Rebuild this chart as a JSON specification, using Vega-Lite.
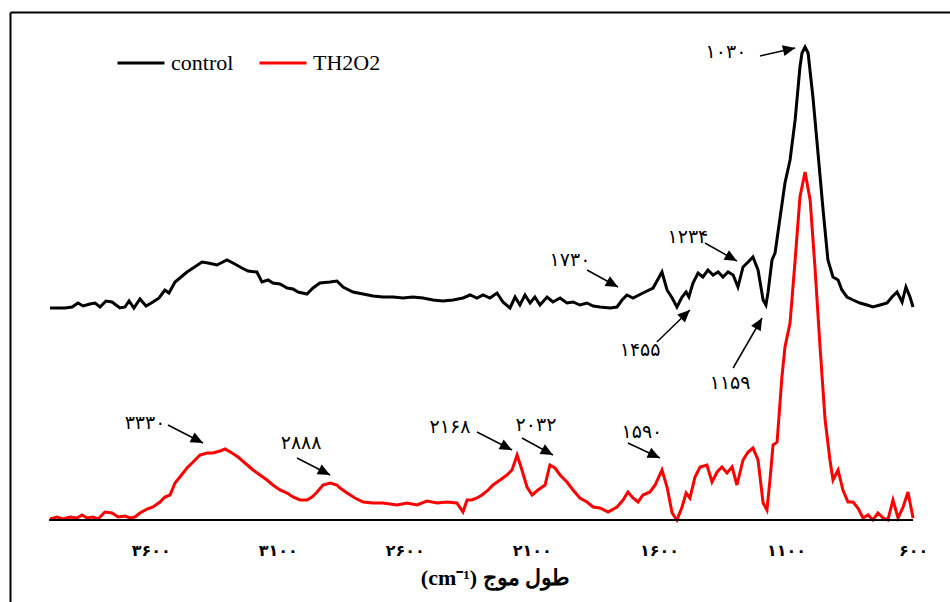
{
  "$schema": "https://vega.github.io/schema/vega-lite/v6.json",
  "width": 940,
  "height": 590,
  "autosize": {"type": "none"},
  "padding": {"left": 10, "top": 12, "right": 0, "bottom": 0},
  "background": "white",
  "config": {"view": {"stroke": null}},
  "datasets": {
    "spectra": [
      {"wavenumber":3996,"value":212,"sample":"control"},{"wavenumber":3937,"value":212,"sample":"control"},{"wavenumber":3909,"value":213,"sample":"control"},{"wavenumber":3886,"value":217,"sample":"control"},{"wavenumber":3866,"value":214,"sample":"control"},{"wavenumber":3839,"value":216,"sample":"control"},{"wavenumber":3819,"value":217,"sample":"control"},{"wavenumber":3799,"value":213,"sample":"control"},{"wavenumber":3776,"value":219,"sample":"control"},{"wavenumber":3752,"value":218,"sample":"control"},{"wavenumber":3721,"value":212,"sample":"control"},{"wavenumber":3701,"value":213,"sample":"control"},{"wavenumber":3685,"value":219,"sample":"control"},{"wavenumber":3666,"value":212,"sample":"control"},{"wavenumber":3642,"value":221,"sample":"control"},{"wavenumber":3618,"value":214,"sample":"control"},{"wavenumber":3591,"value":218,"sample":"control"},{"wavenumber":3567,"value":222,"sample":"control"},{"wavenumber":3544,"value":230,"sample":"control"},{"wavenumber":3528,"value":227,"sample":"control"},{"wavenumber":3504,"value":238,"sample":"control"},{"wavenumber":3485,"value":242,"sample":"control"},{"wavenumber":3457,"value":248,"sample":"control"},{"wavenumber":3433,"value":252,"sample":"control"},{"wavenumber":3398,"value":258,"sample":"control"},{"wavenumber":3374,"value":257,"sample":"control"},{"wavenumber":3339,"value":255,"sample":"control"},{"wavenumber":3300,"value":260,"sample":"control"},{"wavenumber":3276,"value":257,"sample":"control"},{"wavenumber":3241,"value":252,"sample":"control"},{"wavenumber":3217,"value":249,"sample":"control"},{"wavenumber":3182,"value":248,"sample":"control"},{"wavenumber":3162,"value":238,"sample":"control"},{"wavenumber":3138,"value":240,"sample":"control"},{"wavenumber":3119,"value":237,"sample":"control"},{"wavenumber":3091,"value":236,"sample":"control"},{"wavenumber":3063,"value":232,"sample":"control"},{"wavenumber":3040,"value":231,"sample":"control"},{"wavenumber":3020,"value":228,"sample":"control"},{"wavenumber":2985,"value":226,"sample":"control"},{"wavenumber":2961,"value":232,"sample":"control"},{"wavenumber":2934,"value":237,"sample":"control"},{"wavenumber":2894,"value":238,"sample":"control"},{"wavenumber":2867,"value":239,"sample":"control"},{"wavenumber":2843,"value":233,"sample":"control"},{"wavenumber":2804,"value":228,"sample":"control"},{"wavenumber":2764,"value":226,"sample":"control"},{"wavenumber":2725,"value":224,"sample":"control"},{"wavenumber":2686,"value":223,"sample":"control"},{"wavenumber":2646,"value":223,"sample":"control"},{"wavenumber":2607,"value":222,"sample":"control"},{"wavenumber":2568,"value":223,"sample":"control"},{"wavenumber":2528,"value":222,"sample":"control"},{"wavenumber":2489,"value":220,"sample":"control"},{"wavenumber":2450,"value":219,"sample":"control"},{"wavenumber":2410,"value":220,"sample":"control"},{"wavenumber":2371,"value":222,"sample":"control"},{"wavenumber":2343,"value":225,"sample":"control"},{"wavenumber":2316,"value":222,"sample":"control"},{"wavenumber":2292,"value":225,"sample":"control"},{"wavenumber":2265,"value":222,"sample":"control"},{"wavenumber":2237,"value":227,"sample":"control"},{"wavenumber":2214,"value":218,"sample":"control"},{"wavenumber":2186,"value":212,"sample":"control"},{"wavenumber":2166,"value":223,"sample":"control"},{"wavenumber":2147,"value":215,"sample":"control"},{"wavenumber":2127,"value":225,"sample":"control"},{"wavenumber":2107,"value":217,"sample":"control"},{"wavenumber":2088,"value":223,"sample":"control"},{"wavenumber":2068,"value":215,"sample":"control"},{"wavenumber":2040,"value":223,"sample":"control"},{"wavenumber":2017,"value":218,"sample":"control"},{"wavenumber":1989,"value":222,"sample":"control"},{"wavenumber":1962,"value":217,"sample":"control"},{"wavenumber":1938,"value":218,"sample":"control"},{"wavenumber":1911,"value":215,"sample":"control"},{"wavenumber":1883,"value":217,"sample":"control"},{"wavenumber":1859,"value":214,"sample":"control"},{"wavenumber":1832,"value":213,"sample":"control"},{"wavenumber":1792,"value":212,"sample":"control"},{"wavenumber":1765,"value":213,"sample":"control"},{"wavenumber":1745,"value":220,"sample":"control"},{"wavenumber":1726,"value":225,"sample":"control"},{"wavenumber":1702,"value":222,"sample":"control"},{"wavenumber":1663,"value":227,"sample":"control"},{"wavenumber":1623,"value":232,"sample":"control"},{"wavenumber":1588,"value":248,"sample":"control"},{"wavenumber":1568,"value":230,"sample":"control"},{"wavenumber":1548,"value":222,"sample":"control"},{"wavenumber":1529,"value":213,"sample":"control"},{"wavenumber":1509,"value":223,"sample":"control"},{"wavenumber":1493,"value":228,"sample":"control"},{"wavenumber":1482,"value":223,"sample":"control"},{"wavenumber":1466,"value":237,"sample":"control"},{"wavenumber":1446,"value":247,"sample":"control"},{"wavenumber":1427,"value":243,"sample":"control"},{"wavenumber":1407,"value":250,"sample":"control"},{"wavenumber":1387,"value":245,"sample":"control"},{"wavenumber":1367,"value":248,"sample":"control"},{"wavenumber":1348,"value":243,"sample":"control"},{"wavenumber":1328,"value":248,"sample":"control"},{"wavenumber":1308,"value":245,"sample":"control"},{"wavenumber":1289,"value":233,"sample":"control"},{"wavenumber":1269,"value":253,"sample":"control"},{"wavenumber":1249,"value":258,"sample":"control"},{"wavenumber":1230,"value":263,"sample":"control"},{"wavenumber":1210,"value":250,"sample":"control"},{"wavenumber":1190,"value":220,"sample":"control"},{"wavenumber":1179,"value":215,"sample":"control"},{"wavenumber":1171,"value":227,"sample":"control"},{"wavenumber":1155,"value":260,"sample":"control"},{"wavenumber":1143,"value":267,"sample":"control"},{"wavenumber":1123,"value":303,"sample":"control"},{"wavenumber":1104,"value":337,"sample":"control"},{"wavenumber":1084,"value":360,"sample":"control"},{"wavenumber":1064,"value":400,"sample":"control"},{"wavenumber":1045,"value":453,"sample":"control"},{"wavenumber":1037,"value":467,"sample":"control"},{"wavenumber":1025,"value":473,"sample":"control"},{"wavenumber":1013,"value":467,"sample":"control"},{"wavenumber":994,"value":423,"sample":"control"},{"wavenumber":974,"value":367,"sample":"control"},{"wavenumber":954,"value":310,"sample":"control"},{"wavenumber":935,"value":260,"sample":"control"},{"wavenumber":915,"value":243,"sample":"control"},{"wavenumber":895,"value":240,"sample":"control"},{"wavenumber":880,"value":230,"sample":"control"},{"wavenumber":860,"value":223,"sample":"control"},{"wavenumber":836,"value":220,"sample":"control"},{"wavenumber":809,"value":217,"sample":"control"},{"wavenumber":781,"value":215,"sample":"control"},{"wavenumber":758,"value":213,"sample":"control"},{"wavenumber":730,"value":215,"sample":"control"},{"wavenumber":702,"value":217,"sample":"control"},{"wavenumber":683,"value":223,"sample":"control"},{"wavenumber":663,"value":228,"sample":"control"},{"wavenumber":643,"value":218,"sample":"control"},{"wavenumber":628,"value":233,"sample":"control"},{"wavenumber":612,"value":223,"sample":"control"},{"wavenumber":600,"value":213,"sample":"control"},
      {"wavenumber":3996,"value":1,"sample":"TH2O2"},{"wavenumber":3969,"value":3,"sample":"TH2O2"},{"wavenumber":3945,"value":1,"sample":"TH2O2"},{"wavenumber":3917,"value":3,"sample":"TH2O2"},{"wavenumber":3890,"value":2,"sample":"TH2O2"},{"wavenumber":3870,"value":5,"sample":"TH2O2"},{"wavenumber":3850,"value":2,"sample":"TH2O2"},{"wavenumber":3827,"value":3,"sample":"TH2O2"},{"wavenumber":3807,"value":1,"sample":"TH2O2"},{"wavenumber":3780,"value":8,"sample":"TH2O2"},{"wavenumber":3752,"value":7,"sample":"TH2O2"},{"wavenumber":3728,"value":3,"sample":"TH2O2"},{"wavenumber":3701,"value":4,"sample":"TH2O2"},{"wavenumber":3681,"value":2,"sample":"TH2O2"},{"wavenumber":3662,"value":3,"sample":"TH2O2"},{"wavenumber":3642,"value":7,"sample":"TH2O2"},{"wavenumber":3614,"value":11,"sample":"TH2O2"},{"wavenumber":3591,"value":13,"sample":"TH2O2"},{"wavenumber":3563,"value":18,"sample":"TH2O2"},{"wavenumber":3544,"value":23,"sample":"TH2O2"},{"wavenumber":3524,"value":25,"sample":"TH2O2"},{"wavenumber":3504,"value":37,"sample":"TH2O2"},{"wavenumber":3485,"value":43,"sample":"TH2O2"},{"wavenumber":3457,"value":52,"sample":"TH2O2"},{"wavenumber":3433,"value":58,"sample":"TH2O2"},{"wavenumber":3406,"value":65,"sample":"TH2O2"},{"wavenumber":3378,"value":67,"sample":"TH2O2"},{"wavenumber":3355,"value":67,"sample":"TH2O2"},{"wavenumber":3327,"value":69,"sample":"TH2O2"},{"wavenumber":3307,"value":71,"sample":"TH2O2"},{"wavenumber":3280,"value":67,"sample":"TH2O2"},{"wavenumber":3256,"value":63,"sample":"TH2O2"},{"wavenumber":3229,"value":57,"sample":"TH2O2"},{"wavenumber":3197,"value":50,"sample":"TH2O2"},{"wavenumber":3170,"value":45,"sample":"TH2O2"},{"wavenumber":3142,"value":40,"sample":"TH2O2"},{"wavenumber":3119,"value":35,"sample":"TH2O2"},{"wavenumber":3091,"value":30,"sample":"TH2O2"},{"wavenumber":3063,"value":27,"sample":"TH2O2"},{"wavenumber":3040,"value":23,"sample":"TH2O2"},{"wavenumber":3012,"value":20,"sample":"TH2O2"},{"wavenumber":2985,"value":20,"sample":"TH2O2"},{"wavenumber":2965,"value":23,"sample":"TH2O2"},{"wavenumber":2945,"value":28,"sample":"TH2O2"},{"wavenumber":2922,"value":35,"sample":"TH2O2"},{"wavenumber":2894,"value":37,"sample":"TH2O2"},{"wavenumber":2867,"value":35,"sample":"TH2O2"},{"wavenumber":2855,"value":32,"sample":"TH2O2"},{"wavenumber":2827,"value":27,"sample":"TH2O2"},{"wavenumber":2796,"value":22,"sample":"TH2O2"},{"wavenumber":2764,"value":18,"sample":"TH2O2"},{"wavenumber":2725,"value":17,"sample":"TH2O2"},{"wavenumber":2686,"value":17,"sample":"TH2O2"},{"wavenumber":2631,"value":15,"sample":"TH2O2"},{"wavenumber":2591,"value":17,"sample":"TH2O2"},{"wavenumber":2552,"value":15,"sample":"TH2O2"},{"wavenumber":2513,"value":19,"sample":"TH2O2"},{"wavenumber":2473,"value":17,"sample":"TH2O2"},{"wavenumber":2434,"value":18,"sample":"TH2O2"},{"wavenumber":2395,"value":17,"sample":"TH2O2"},{"wavenumber":2371,"value":8,"sample":"TH2O2"},{"wavenumber":2355,"value":20,"sample":"TH2O2"},{"wavenumber":2336,"value":20,"sample":"TH2O2"},{"wavenumber":2316,"value":22,"sample":"TH2O2"},{"wavenumber":2296,"value":25,"sample":"TH2O2"},{"wavenumber":2276,"value":29,"sample":"TH2O2"},{"wavenumber":2253,"value":35,"sample":"TH2O2"},{"wavenumber":2225,"value":40,"sample":"TH2O2"},{"wavenumber":2198,"value":45,"sample":"TH2O2"},{"wavenumber":2178,"value":50,"sample":"TH2O2"},{"wavenumber":2158,"value":65,"sample":"TH2O2"},{"wavenumber":2139,"value":50,"sample":"TH2O2"},{"wavenumber":2119,"value":33,"sample":"TH2O2"},{"wavenumber":2099,"value":25,"sample":"TH2O2"},{"wavenumber":2076,"value":30,"sample":"TH2O2"},{"wavenumber":2048,"value":35,"sample":"TH2O2"},{"wavenumber":2029,"value":55,"sample":"TH2O2"},{"wavenumber":2009,"value":52,"sample":"TH2O2"},{"wavenumber":1989,"value":45,"sample":"TH2O2"},{"wavenumber":1962,"value":38,"sample":"TH2O2"},{"wavenumber":1938,"value":30,"sample":"TH2O2"},{"wavenumber":1911,"value":22,"sample":"TH2O2"},{"wavenumber":1883,"value":18,"sample":"TH2O2"},{"wavenumber":1859,"value":13,"sample":"TH2O2"},{"wavenumber":1832,"value":12,"sample":"TH2O2"},{"wavenumber":1800,"value":8,"sample":"TH2O2"},{"wavenumber":1765,"value":13,"sample":"TH2O2"},{"wavenumber":1741,"value":20,"sample":"TH2O2"},{"wavenumber":1722,"value":28,"sample":"TH2O2"},{"wavenumber":1702,"value":22,"sample":"TH2O2"},{"wavenumber":1682,"value":18,"sample":"TH2O2"},{"wavenumber":1663,"value":25,"sample":"TH2O2"},{"wavenumber":1635,"value":28,"sample":"TH2O2"},{"wavenumber":1615,"value":35,"sample":"TH2O2"},{"wavenumber":1588,"value":50,"sample":"TH2O2"},{"wavenumber":1568,"value":33,"sample":"TH2O2"},{"wavenumber":1548,"value":7,"sample":"TH2O2"},{"wavenumber":1529,"value":0,"sample":"TH2O2"},{"wavenumber":1509,"value":13,"sample":"TH2O2"},{"wavenumber":1493,"value":27,"sample":"TH2O2"},{"wavenumber":1478,"value":22,"sample":"TH2O2"},{"wavenumber":1458,"value":43,"sample":"TH2O2"},{"wavenumber":1438,"value":53,"sample":"TH2O2"},{"wavenumber":1411,"value":55,"sample":"TH2O2"},{"wavenumber":1391,"value":38,"sample":"TH2O2"},{"wavenumber":1371,"value":48,"sample":"TH2O2"},{"wavenumber":1352,"value":53,"sample":"TH2O2"},{"wavenumber":1332,"value":47,"sample":"TH2O2"},{"wavenumber":1312,"value":53,"sample":"TH2O2"},{"wavenumber":1293,"value":35,"sample":"TH2O2"},{"wavenumber":1269,"value":60,"sample":"TH2O2"},{"wavenumber":1249,"value":68,"sample":"TH2O2"},{"wavenumber":1230,"value":72,"sample":"TH2O2"},{"wavenumber":1210,"value":60,"sample":"TH2O2"},{"wavenumber":1190,"value":17,"sample":"TH2O2"},{"wavenumber":1175,"value":10,"sample":"TH2O2"},{"wavenumber":1163,"value":40,"sample":"TH2O2"},{"wavenumber":1151,"value":75,"sample":"TH2O2"},{"wavenumber":1135,"value":78,"sample":"TH2O2"},{"wavenumber":1116,"value":143,"sample":"TH2O2"},{"wavenumber":1104,"value":173,"sample":"TH2O2"},{"wavenumber":1084,"value":197,"sample":"TH2O2"},{"wavenumber":1064,"value":260,"sample":"TH2O2"},{"wavenumber":1045,"value":323,"sample":"TH2O2"},{"wavenumber":1025,"value":348,"sample":"TH2O2"},{"wavenumber":1005,"value":320,"sample":"TH2O2"},{"wavenumber":986,"value":253,"sample":"TH2O2"},{"wavenumber":966,"value":173,"sample":"TH2O2"},{"wavenumber":946,"value":100,"sample":"TH2O2"},{"wavenumber":927,"value":60,"sample":"TH2O2"},{"wavenumber":915,"value":40,"sample":"TH2O2"},{"wavenumber":895,"value":50,"sample":"TH2O2"},{"wavenumber":876,"value":30,"sample":"TH2O2"},{"wavenumber":856,"value":18,"sample":"TH2O2"},{"wavenumber":836,"value":18,"sample":"TH2O2"},{"wavenumber":817,"value":12,"sample":"TH2O2"},{"wavenumber":797,"value":2,"sample":"TH2O2"},{"wavenumber":777,"value":5,"sample":"TH2O2"},{"wavenumber":758,"value":0,"sample":"TH2O2"},{"wavenumber":738,"value":7,"sample":"TH2O2"},{"wavenumber":718,"value":2,"sample":"TH2O2"},{"wavenumber":699,"value":0,"sample":"TH2O2"},{"wavenumber":679,"value":20,"sample":"TH2O2"},{"wavenumber":659,"value":2,"sample":"TH2O2"},{"wavenumber":639,"value":13,"sample":"TH2O2"},{"wavenumber":620,"value":28,"sample":"TH2O2"},{"wavenumber":600,"value":2,"sample":"TH2O2"}
    ],
    "notes": [
      {"label":"۱۰۳۰","tx":1336,"ty":468,"x1":1202,"y1":464,"x2":1064,"y2":472},
      {"label":"۱۷۳۰","tx":1950,"ty":260,"x1":1883,"y1":250,"x2":1761,"y2":233},
      {"label":"۱۲۳۴","tx":1486,"ty":283,"x1":1419,"y1":277,"x2":1293,"y2":259},
      {"label":"۱۴۵۵","tx":1674,"ty":170,"x1":1608,"y1":178,"x2":1478,"y2":210},
      {"label":"۱۱۵۹","tx":1320,"ty":137,"x1":1308,"y1":152,"x2":1194,"y2":202},
      {"label":"۳۳۳۰","tx":3622,"ty":97,"x1":3532,"y1":95,"x2":3394,"y2":77},
      {"label":"۲۸۸۸","tx":3008,"ty":77,"x1":3024,"y1":62,"x2":2894,"y2":45},
      {"label":"۲۱۶۸","tx":2422,"ty":93,"x1":2316,"y1":88,"x2":2178,"y2":70},
      {"label":"۲۰۳۲","tx":2084,"ty":95,"x1":2139,"y1":82,"x2":2017,"y2":65},
      {"label":"۱۵۹۰","tx":1667,"ty":88,"x1":1722,"y1":77,"x2":1596,"y2":62}
    ]
  },
  "resolve": {"axis": {"x": "independent"}},
  "layer": [
    {
      "data": {"name": "spectra"},
      "mark": {"type": "line", "strokeWidth": 3},
      "encoding": {
        "x": {
          "field": "wavenumber", "type": "quantitative",
          "scale": {"domain": [454.6, 4153.5], "reverse": true, "nice": false, "zero": false},
          "axis": {
            "orient": "bottom", "offset": -82, "domain": false, "ticks": false, "tickSize": 0, "grid": false,
            "values": [3600, 3100, 2600, 2100, 1600, 1100, 600],
            "labelExpr": "datum.value == 3600 ? '۳۶۰۰' : datum.value == 3100 ? '۳۱۰۰' : datum.value == 2600 ? '۲۶۰۰' : datum.value == 2100 ? '۲۱۰۰' : datum.value == 1600 ? '۱۶۰۰' : datum.value == 1100 ? '۱۱۰۰' : '۶۰۰'",
            "labelFont": "DejaVu Sans", "labelFontWeight": "bold", "labelFontSize": 16, "labelColor": "black",
            "labelPadding": 22, "labelFlush": false, "labelOverlap": false,
            "title": "(cm⁻¹) طول موج", "titleFont": "Liberation Serif", "titleFontSize": 22, "titleFontWeight": "bold",
            "titleColor": "black", "titlePadding": 9, "titleX": 485, "titleAlign": "center"
          }
        },
        "y": {
          "field": "value", "type": "quantitative",
          "scale": {"domain": [-82, 508], "nice": false, "zero": false},
          "axis": {"orient": "left", "domain": true, "domainColor": "black", "domainWidth": 2, "ticks": false, "labels": false, "grid": false, "title": null}
        },
        "color": {
          "field": "sample", "type": "nominal",
          "scale": {"domain": ["control", "TH2O2"], "range": ["#000000", "#ff0000"]},
          "legend": {
            "orient": "none", "legendX": 106, "legendY": 26, "direction": "horizontal", "title": null,
            "symbolType": "stroke", "symbolSize": 2209, "symbolStrokeWidth": 3,
            "labelFont": "Liberation Serif", "labelFontSize": 22, "labelColor": "black",
            "labelOffset": 5, "columnPadding": 19, "padding": 0, "labelLimit": 300
          }
        }
      }
    },
    {
      "data": {"values": [{"from": 4000, "to": 600, "level": 0}]},
      "mark": {"type": "rule", "color": "black", "strokeWidth": 2},
      "encoding": {
        "x": {
          "field": "from", "type": "quantitative",
          "scale": {"domain": [454.6, 4153.5], "reverse": true, "nice": false, "zero": false},
          "axis": {"orient": "top", "domain": true, "domainColor": "black", "domainWidth": 2, "ticks": false, "labels": false, "grid": false, "title": null}
        },
        "x2": {"field": "to"},
        "y": {
          "field": "level", "type": "quantitative",
          "scale": {"domain": [-82, 508], "nice": false, "zero": false},
          "axis": {"orient": "left", "domain": true, "domainColor": "black", "domainWidth": 2, "ticks": false, "labels": false, "grid": false, "title": null}
        }
      }
    },
    {
      "data": {"name": "notes"},
      "mark": {"type": "rule", "color": "black", "strokeWidth": 1.5},
      "encoding": {
        "x": {"field": "x1", "type": "quantitative", "scale": {"domain": [454.6, 4153.5], "reverse": true, "nice": false, "zero": false}, "axis": null},
        "x2": {"field": "x2"},
        "y": {"field": "y1", "type": "quantitative", "scale": {"domain": [-82, 508], "nice": false, "zero": false}, "axis": {"orient": "left", "domain": true, "domainColor": "black", "domainWidth": 2, "ticks": false, "labels": false, "grid": false, "title": null}},
        "y2": {"field": "y2"}
      }
    },
    {
      "data": {"name": "notes"},
      "transform": [{"calculate": "atan2((datum.x1 - datum.x2) * 0.2541, datum.y2 - datum.y1) * 180 / PI", "as": "angle"}],
      "mark": {"type": "point", "shape": "M0,0L-0.9,2L0.9,2Z", "filled": true, "color": "black", "size": 150, "opacity": 1},
      "encoding": {
        "x": {"field": "x2", "type": "quantitative", "scale": {"domain": [454.6, 4153.5], "reverse": true, "nice": false, "zero": false}, "axis": null},
        "y": {"field": "y2", "type": "quantitative", "scale": {"domain": [-82, 508], "nice": false, "zero": false}, "axis": {"orient": "left", "domain": true, "domainColor": "black", "domainWidth": 2, "ticks": false, "labels": false, "grid": false, "title": null}},
        "angle": {"field": "angle", "type": "quantitative", "scale": null}
      }
    },
    {
      "data": {"name": "notes"},
      "mark": {"type": "text", "font": "DejaVu Sans", "fontSize": 19, "color": "black", "align": "center", "baseline": "middle"},
      "encoding": {
        "x": {"field": "tx", "type": "quantitative", "scale": {"domain": [454.6, 4153.5], "reverse": true, "nice": false, "zero": false}, "axis": null},
        "y": {"field": "ty", "type": "quantitative", "scale": {"domain": [-82, 508], "nice": false, "zero": false}, "axis": {"orient": "left", "domain": true, "domainColor": "black", "domainWidth": 2, "ticks": false, "labels": false, "grid": false, "title": null}},
        "text": {"field": "label"}
      }
    }
  ]
}
